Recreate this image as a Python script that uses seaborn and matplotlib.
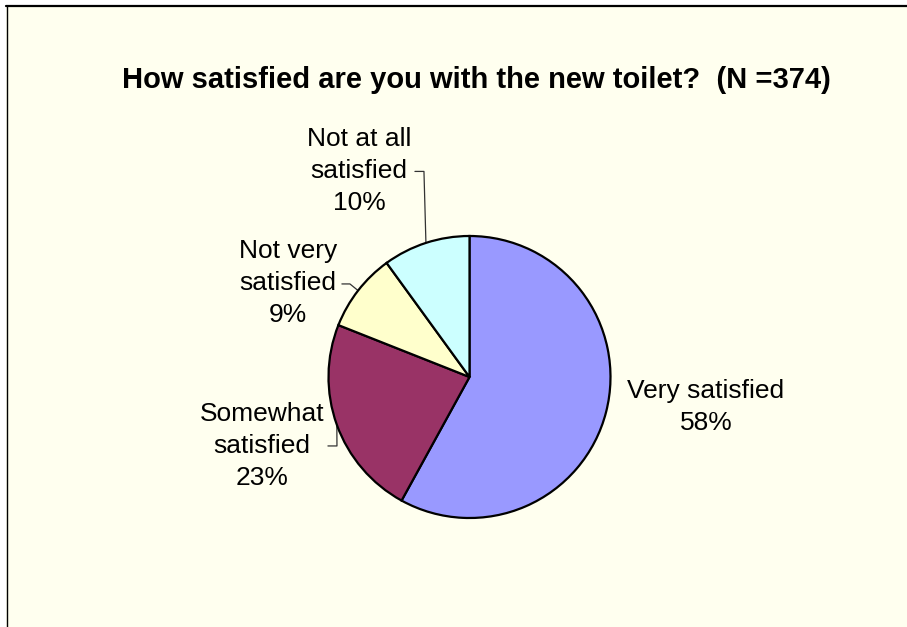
import numpy as np
import matplotlib
matplotlib.use("Agg")
import matplotlib.pyplot as plt
from matplotlib.lines import Line2D
from matplotlib.patches import Rectangle
import seaborn as sns

sns.set_theme(style="white")
plt.rcParams["font.family"] = ["Liberation Sans", "DejaVu Sans"]

# Survey responses (share of respondents, %)
categories = ["Very satisfied", "Somewhat\nsatisfied", "Not very\nsatisfied", "Not at all\nsatisfied"]
shares = [58, 23, 9, 10]
colors = ["#9999FF", "#993366", "#FFFFCC", "#CCFFFF"]
title = "How satisfied are you with the new toilet?  (N =374)"

W, H = 907, 627
fig = plt.figure(figsize=(W / 100, H / 100), dpi=100)
fig.patch.set_facecolor("white")

# chart area: ivory panel with dark top/left edge
bg = "#FFFFEF"
fig.patches.append(Rectangle((6 / W, 0), 1, 1 - 6 / H, transform=fig.transFigure,
                             facecolor=bg, edgecolor="none", zorder=-10))
fig.lines.append(Line2D([6 / W, 1], [1 - 5.5 / H, 1 - 5.5 / H], transform=fig.transFigure,
                        color="black", lw=1.6, zorder=-5))
fig.lines.append(Line2D([6.5 / W, 6.5 / W], [0, 1 - 5.5 / H], transform=fig.transFigure,
                        color="black", lw=1.0, zorder=-5))

# pie axes: centre (469.5, 377) px, radius 141 px
cx, cy, r = 469.5, 377, 141
ax = fig.add_axes([(cx - r) / W, (H - cy - r) / H, 2 * r / W, 2 * r / H])
ax.set_facecolor("none")
wedges, _ = ax.pie(shares, colors=colors, startangle=90, counterclock=False,
                   wedgeprops=dict(edgecolor="black", linewidth=1.6))
ax.set_xlim(-1, 1)
ax.set_ylim(-1, 1)
ax.axis("off")

# label placements (in pie radii) and leader elbows
label_pos = [(1.677, -0.216), (-1.472, -0.489), (-1.287, 0.664), (-0.784, 1.461)]
elbows = [None, (-0.94, -0.489), (-0.848, 0.660), (-0.323, 1.458)]
stub = [None, -0.064, -0.057, -0.064]

for w, cat, pct, (lx, ly), elb, st in zip(wedges, categories, shares, label_pos, elbows, stub):
    ax.text(lx, ly, f"{cat}\n{pct}%", ha="center", va="center", fontsize=19,
            linespacing=1.42, color="black", clip_on=False)
    if elb is not None:
        mid = np.deg2rad((w.theta1 + w.theta2) / 2)
        ex, ey = np.cos(mid), np.sin(mid)
        ax.plot([elb[0] + st, elb[0], ex], [elb[1], elb[1], ey], color="#333333",
                lw=0.9, clip_on=False, zorder=0.5)

fig.text(476 / W, 1 - 80 / H, title, ha="center", va="center", fontsize=21,
         fontweight="bold", color="black")

fig.savefig("out.png", dpi=100, facecolor=fig.get_facecolor())
